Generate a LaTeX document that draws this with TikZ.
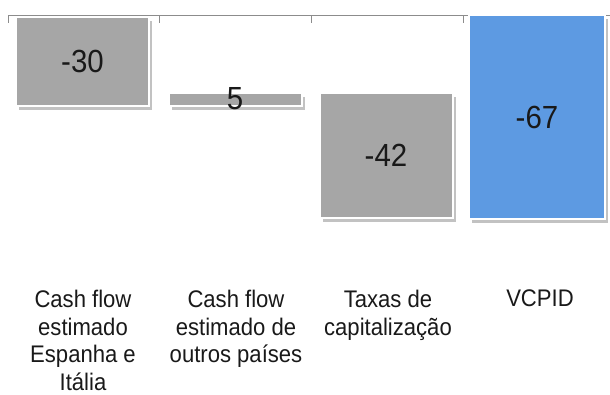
\documentclass[tikz,border=0pt]{standalone}
\usepackage{fontspec}
\setmainfont[FakeStretch=0.92]{Liberation Sans}
\usetikzlibrary{shadows}
\definecolor{bargray}{HTML}{A6A6A6}
\definecolor{barblue}{HTML}{5D9AE2}
\definecolor{axisgray}{HTML}{8C8C8C}
\begin{document}
\begin{tikzpicture}[x=1pt,y=-1pt,
  bar/.style={draw=white, line width=2pt, inner sep=0pt, minimum width=133pt,
    font=\fontsize{32}{34}\selectfont, text=black!90,
    drop shadow={shadow xshift=3pt, shadow yshift=-4pt, opacity=0.4, fill=black!60}},
  cat/.style={anchor=north, align=center, inner sep=0pt,
    font=\fontsize{24}{27.5}\selectfont, text=black!90},
  axisline/.style={draw=axisgray, line width=0.9pt}]
\useasboundingbox (0,0) rectangle (610,394);
% axis
\coordinate (a0) at (8,15);
\coordinate (a1) at (610,15);
\draw[axisline] (a0) -- (a1);
\foreach \i/\x in {0/8,1/159,2/311,3/463}{
  \coordinate (t\i) at (\x,15);
  \coordinate (u\i) at (\x,23);
  \draw[axisline] (t\i) -- (u\i);
}
% bars
\node[bar, fill=bargray, minimum height=89pt] (b1) at (82.5,61.5) {-30};
\node[bar, fill=bargray, minimum height=13pt] (b2) at (235,99.5) {};
\node[font=\fontsize{32}{34}\selectfont, text=black!90] (l2) at (235,99) {5};
\node[bar, fill=bargray, minimum height=125pt] (b3) at (386,155.5) {-42};
\node[bar, fill=barblue, minimum height=204pt, minimum width=136pt] (b4) at (537,117) {-67};
% categories
\node[cat] (c1) at (83,290) {Cash flow\\estimado\\Espanha e\\Itália};
\node[cat] (c2) at (236,290) {Cash flow\\estimado de\\outros países};
\node[cat] (c3) at (388,290) {Taxas de\\capitalização};
\node[cat] (c4) at (540,290) {VCPID};
\end{tikzpicture}
\end{document}
